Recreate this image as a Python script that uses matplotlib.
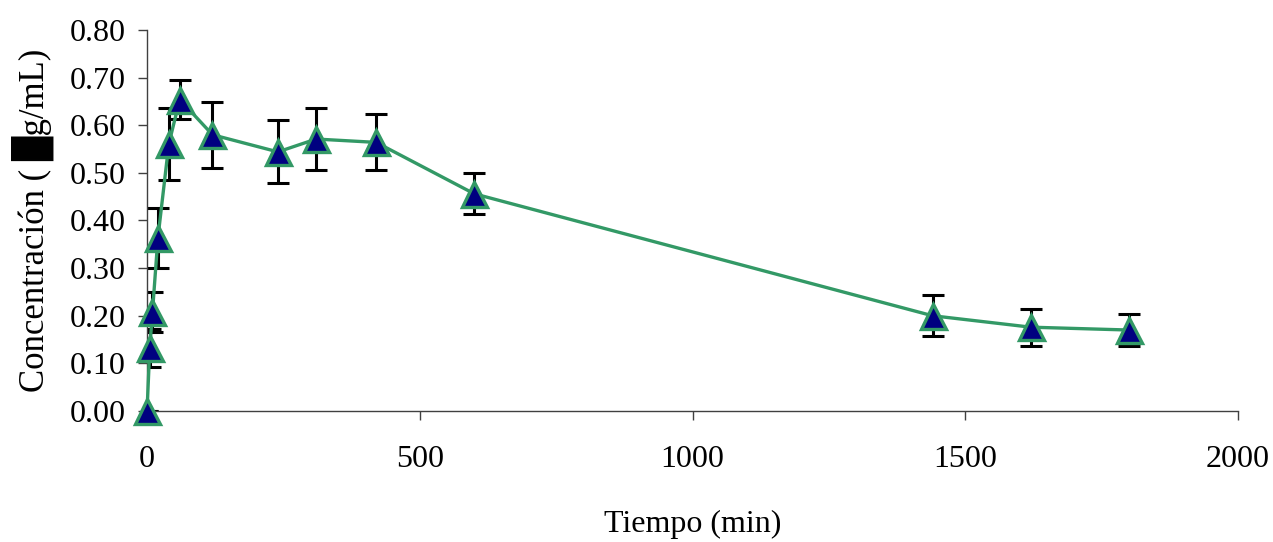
import matplotlib
matplotlib.use("Agg")
import matplotlib.pyplot as plt

# Tiempo (min) y concentración media con su desviación
tiempo = [0, 5, 10, 20, 40, 60, 120, 240, 310, 420, 600, 1440, 1620, 1800]
concentracion = [0.0, 0.132, 0.208, 0.364, 0.561, 0.654, 0.580, 0.544, 0.571,
                 0.564, 0.456, 0.200, 0.176, 0.170]
error = [0.0, 0.040, 0.042, 0.063, 0.075, 0.040, 0.069, 0.066, 0.066,
         0.059, 0.043, 0.043, 0.039, 0.033]
yticks = [0.0, 0.1, 0.2, 0.3, 0.4, 0.5, 0.6, 0.7, 0.8]
xticks = [0, 500, 1000, 1500, 2000]

plt.rcParams['font.family'] = ['Liberation Serif', 'DejaVu Serif', 'DejaVu Sans']

fig = plt.figure(figsize=(12.73, 5.42), dpi=100)
ax = fig.add_axes([0.1155, 0.2417, 0.857, 0.703])

ax.errorbar(tiempo, concentracion, yerr=error, fmt='none', ecolor='black',
            elinewidth=2.2, capsize=8, capthick=2.2, zorder=2)
ax.plot(tiempo, concentracion, color='#339966', linewidth=2.4, marker='^',
        markersize=18, markerfacecolor='#000080', markeredgecolor='#339966',
        markeredgewidth=2.4, zorder=3, clip_on=False)

ax.set_xlim(0, 2000)
ax.set_ylim(0, 0.8)
ax.set_xticks(xticks)
ax.set_yticks(yticks)
ax.set_yticklabels([f"{v:.2f}" for v in yticks])
ax.tick_params(axis='both', labelsize=23, direction='out', length=6.5,
               width=1, color='#404040')
ax.tick_params(axis='x', pad=18)
ax.tick_params(axis='y', pad=9)

for side in ['top', 'right']:
    ax.spines[side].set_visible(False)
for side in ['left', 'bottom']:
    ax.spines[side].set_color('#404040')
    ax.spines[side].set_linewidth(1)

ax.set_xlabel("Tiempo (min)", fontsize=23)
ax.set_ylabel("Concentración ( \u2588g/mL)", fontsize=25)
ax.xaxis.set_label_coords(0.5, -0.26)
ax.yaxis.set_label_coords(-0.085, 0.5)

fig.savefig("out.png", dpi=100)
